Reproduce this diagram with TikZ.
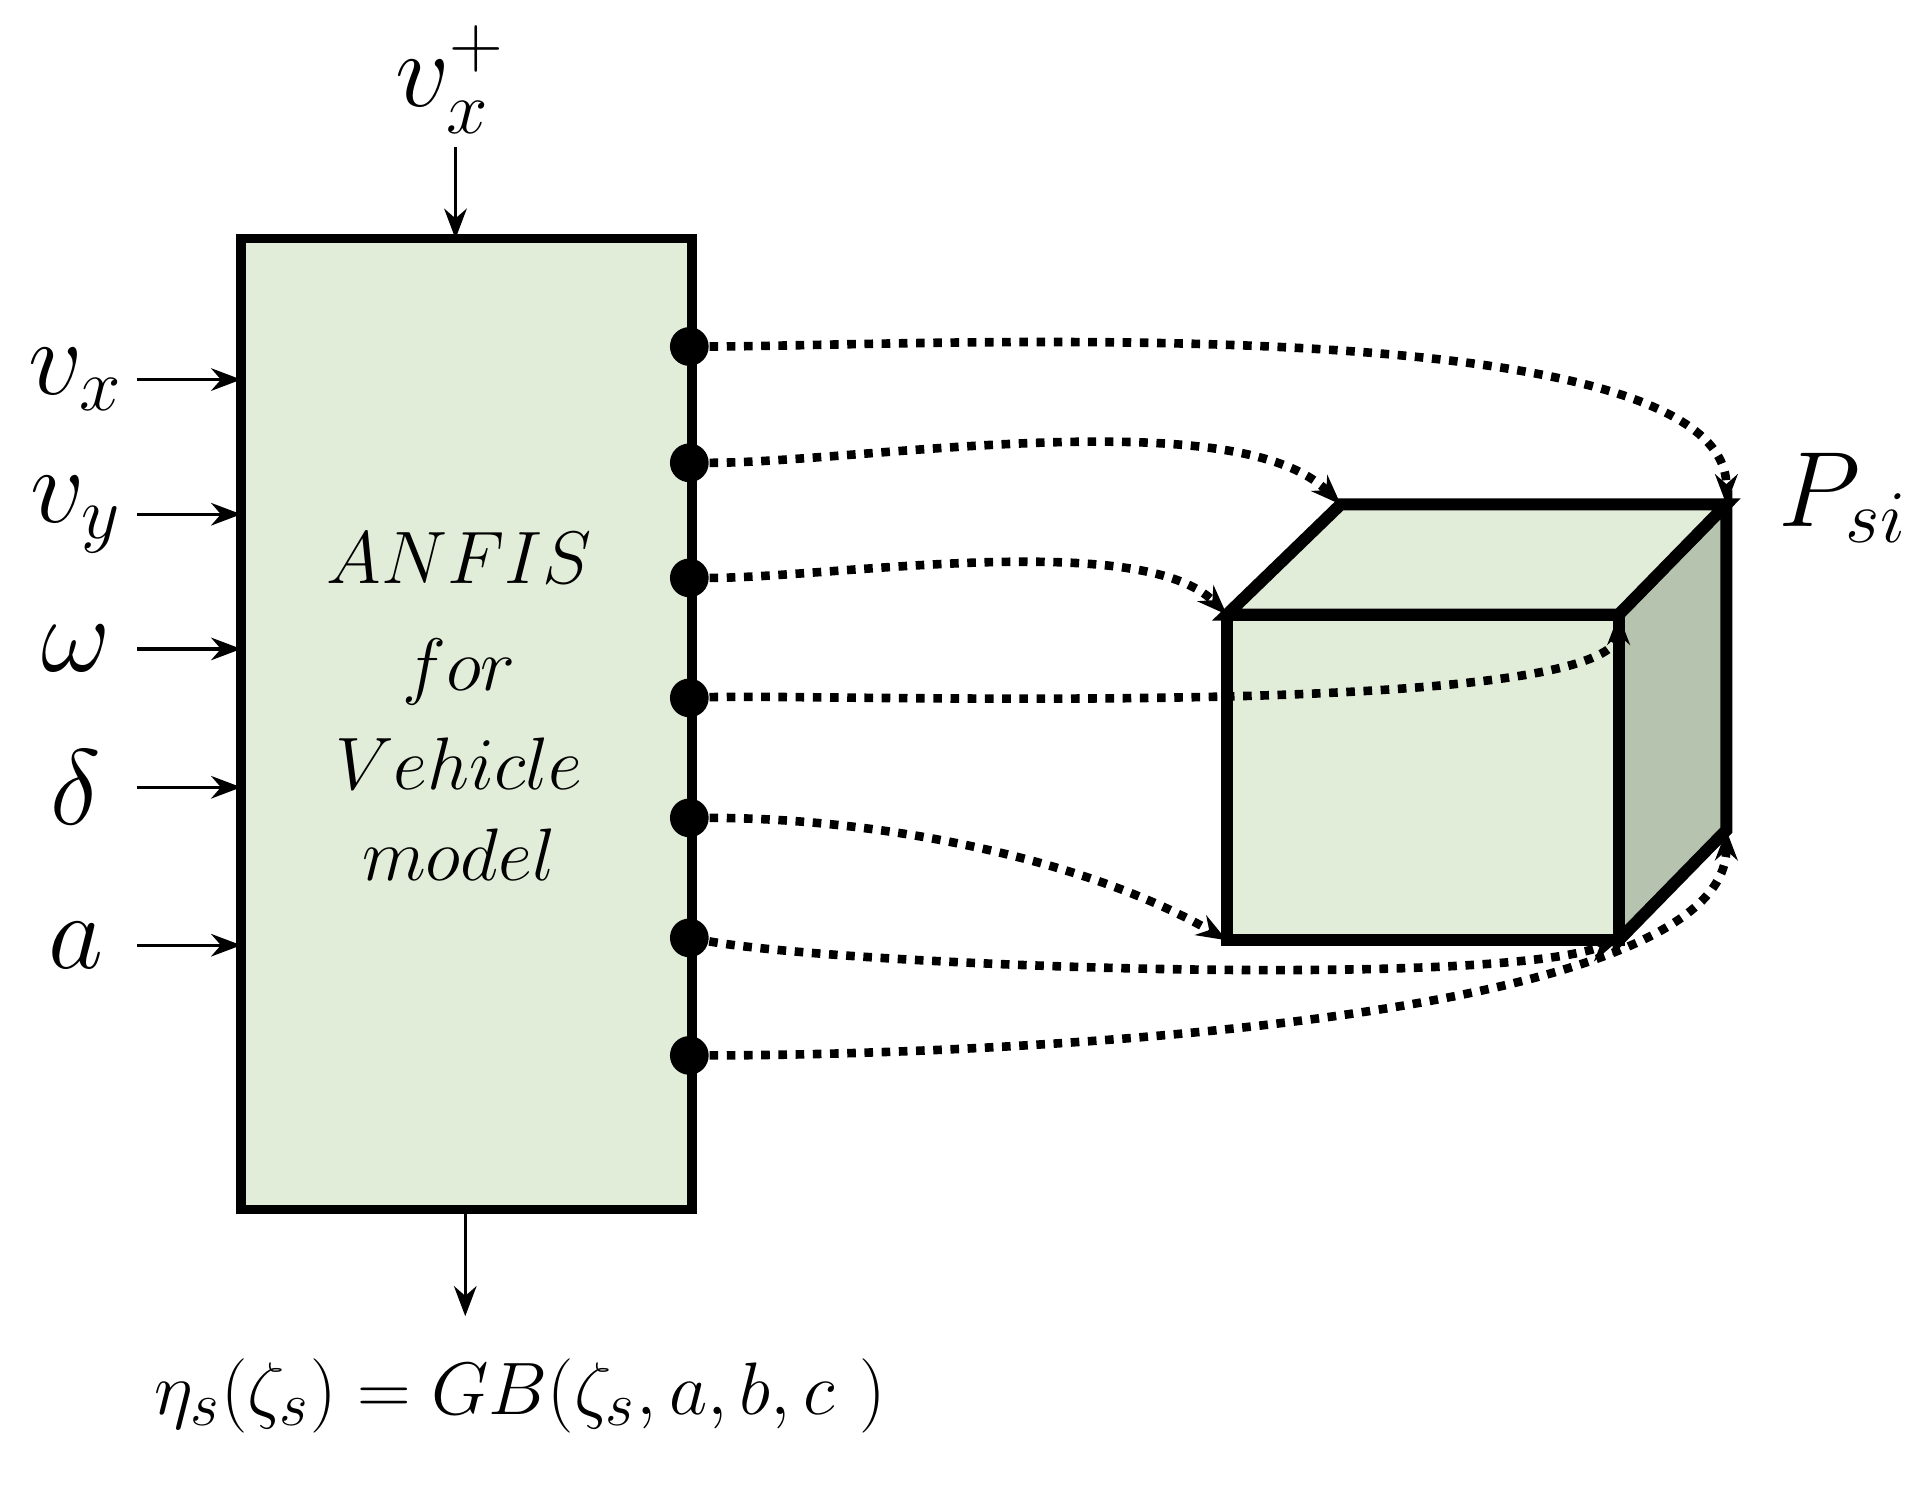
\documentclass[tikz,border=0pt]{standalone}
\usepackage{amsmath}
\usetikzlibrary{arrows.meta}
\definecolor{boxfill}{HTML}{E2EDD9}
\definecolor{sidefill}{HTML}{B5C3AF}
\tikzset{
  inarrow/.style={thick,-{Stealth[length=7pt]}},
  link/.style={line width=2pt,dotted,-{Stealth[length=7pt]}},
  lbl/.style={font=\fontsize{23}{27}\selectfont},
  dot/.style={circle,fill=black,inner sep=0pt,minimum width=7pt,minimum height=9pt}
}
\begin{document}
\begin{tikzpicture}[x=1cm,y=1cm]
\useasboundingbox (0,0) rectangle (15.6,12.17);
% ANFIS block
\draw[line width=2.2pt,fill=boxfill] (1.97,2.29) rectangle (5.65,10.22);
\node[font=\fontsize{19}{24}\selectfont,align=center] (anfis) at (3.75,6.4)
  {$ANFIS$\\[1pt]$for$\\[-1pt]$Vehicle$\\[-3pt]$model$};
\coordinate (ltop) at (3.72,10.22);
\coordinate (lbot) at (3.80,2.29);
% cube
\draw[line width=2.8pt,fill=sidefill] (13.22,4.49) -- (14.10,5.39) -- (14.10,8.05) -- (13.22,7.15) -- cycle;
\draw[line width=2.8pt,fill=boxfill] (10.02,7.15) -- (10.95,8.05) -- (14.10,8.05) -- (13.22,7.15) -- cycle;
\draw[line width=2.8pt,fill=boxfill] (10.02,4.49) rectangle (13.22,7.15);
\coordinate (btr) at (14.10,8.05);
\coordinate (btl) at (10.95,8.05);
\coordinate (ftl) at (10.02,7.15);
\coordinate (ftr) at (13.22,7.15);
\coordinate (fbl) at (10.02,4.49);
\coordinate (fbr) at (13.22,4.49);
\coordinate (bbr) at (14.10,5.39);
% output dots
\foreach \i/\y in {1/2.83,2/3.78,3/4.72,4/5.70,5/6.68,6/7.66,7/8.62}
  \node[dot] (d\i) at (5.63,12.17-\y) {};
\draw[link] (d1) to[out=0,in=90,looseness=0.5] (btr);
\draw[link] (d2) to[out=0,in=135,looseness=0.6] (btl);
\draw[link] (d3) to[out=0,in=135,looseness=0.6] (ftl);
\draw[link] (d4) to[out=2,in=-90,looseness=0.3] (ftr);
\draw[link] (d5) to[out=0,in=150,looseness=0.8] (fbl);
\draw[link] (d6) to[out=-10,in=200,looseness=0.4] (fbr);
\draw[link] (d7) to[out=0,in=-90,looseness=0.5] (bbr);
% inputs
\foreach \n/\t/\y in {vx/v_x/3.10,vy/v_y/4.20,w/\omega/5.30,dl/\delta/6.43,a/a/7.72}{
  \node[lbl] (\n) at (0.62,12.17-\y) {$\t$};
  \coordinate (\n e) at (1.97,12.17-\y);
  \draw[inarrow] (1.12,12.17-\y) -- (\n e);
}
\node[lbl] (vxp) at (3.68,11.52) {$v_x^+$};
\draw[inarrow] (3.72,10.97) -- (ltop);
\node[lbl] (psi) at (15.05,8.10) {$P_{si}$};
\coordinate (eqa) at (3.80,1.42);
\draw[inarrow] (lbot) -- (eqa);
\node[font=\fontsize{19}{23}\selectfont] (eq) at (4.25,0.77) {$\eta_s(\zeta_s) = GB(\zeta_s,a,b,c\ )$};
\end{tikzpicture}
\end{document}
